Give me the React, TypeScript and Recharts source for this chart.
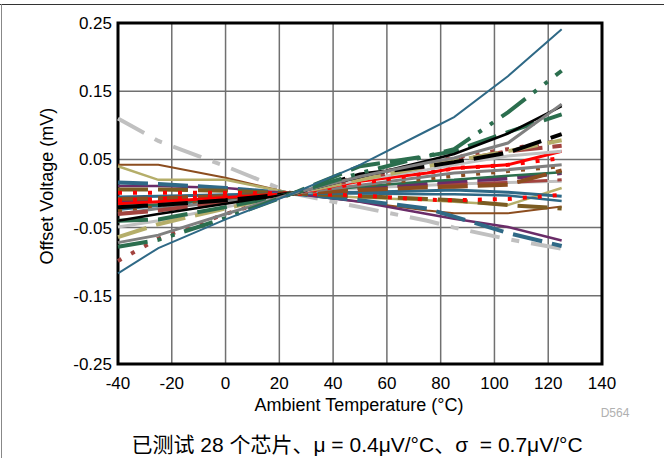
import React from "react";
import {
  LineChart,
  Line,
  XAxis,
  YAxis,
  CartesianGrid,
  ReferenceArea,
} from "recharts";

// measurement temperatures (°C)
const TEMPS = [-40, -25, 0, 25, 50, 75, 85, 105, 125];

const X_TICKS = [-40, -20, 0, 20, 40, 60, 80, 100, 120, 140];
const Y_TICKS = [-0.25, -0.15, -0.05, 0.05, 0.15, 0.25];

// offset voltage (mV) per chip, one array per unit
const blueTop = [-0.117, -0.08, -0.038, 0, 0.042, 0.092, 0.112, 0.172, 0.241];
const greenDashDot = [-0.078, -0.068, -0.036, 0, 0.03, 0.055, 0.065, 0.119, 0.18];
const grayTop = [-0.072, -0.061, -0.03, 0, 0.025, 0.045, 0.052, 0.074, 0.131];
const blackTop = [-0.04, -0.03, -0.015, 0, 0.024, 0.048, 0.058, 0.088, 0.128];
const greenLongDash = [-0.04, -0.038, -0.02, 0, 0.04, 0.055, 0.062, 0.09, 0.116];
const blackDash = [-0.02, -0.017, -0.01, 0, 0.028, 0.04, 0.046, 0.06, 0.087];
const khakiDash = [-0.064, -0.045, -0.022, 0, 0.02, 0.04, 0.048, 0.062, 0.078];
const maroonDot = [-0.099, -0.066, -0.03, 0, 0.025, 0.045, 0.053, 0.065, 0.078];
const maroonDash = [-0.03, -0.025, -0.012, 0, 0.022, 0.04, 0.048, 0.062, 0.07];
const lgrayA = [-0.049, -0.04, -0.02, 0, 0.02, 0.035, 0.042, 0.055, 0.062];
const redSolid = [-0.015, -0.012, -0.006, 0, 0.018, 0.03, 0.037, 0.042, 0.062];
const redDotUp = [-0.01, -0.008, -0.004, 0, 0.015, 0.03, 0.037, 0.042, 0.052];
const grayB = [-0.03, -0.022, -0.012, 0, 0.012, 0.025, 0.03, 0.035, 0.042];
const brownDot = [-0.025, -0.02, -0.01, 0, 0.012, 0.022, 0.026, 0.033, 0.04];
const greenThin = [-0.02, -0.016, -0.008, 0, 0.01, 0.018, 0.02, 0.026, 0.031];
const purpleDash = [-0.01, -0.01, -0.005, 0, 0.008, 0.015, 0.018, 0.022, 0.03];
const maroonThin = [-0.012, -0.01, -0.006, 0, 0.008, 0.012, 0.014, 0.016, 0.02];
const lgrayB = [-0.017, -0.015, -0.008, 0, 0.008, 0.012, 0.014, 0.016, 0.018];
const brownDash = [-0.008, -0.007, -0.004, 0, 0.005, 0.009, 0.01, 0.013, 0.034];
const khakiSolid = [0.04, 0.02, 0.02, 0, -0.006, -0.01, -0.012, -0.017, 0.008];
const brownSolid = [0.042, 0.042, 0.023, 0, -0.012, -0.025, -0.029, -0.029, -0.019];
const redDotFlat = [0.001, 0.001, 0.001, 0, -0.003, -0.009, -0.01, -0.008, -0.002];
const blueFlat = [-0.024, -0.018, -0.008, 0, 0.0, -0.001, -0.001, -0.003, -0.011];
const purpleDown = [0.011, 0.011, 0.008, 0, -0.012, -0.03, -0.037, -0.049, -0.069];
const blueDash = [0.016, 0.014, 0.008, 0, -0.01, -0.022, -0.034, -0.058, -0.077];
const lgrayDash = [0.11, 0.077, 0.04, 0, -0.02, -0.04, -0.05, -0.067, -0.081];
const oliveDash = [0.006, 0.006, 0.004, 0, -0.004, -0.008, -0.01, -0.017, -0.022];
const blueMid = [-0.005, -0.004, -0.002, 0, 0.002, 0.004, 0.005, 0.002, -0.004];

const BLUE = "#2f6986";
const GREEN = "#2b6e4e";
const GRAY = "#808080";
const LGRAY = "#c0c0c0";
const KHAKI = "#b5ae6a";
const MAROON = "#a3433f";
const RED = "#ff0000";
const BROWN = "#8c4d1f";
const PURPLE = "#6a2c68";
const OLIVE = "#7b5c22";

const DOT = "4 11";
const DASH = "30 10";
const LONG_SHORT = "30 12 8 12";
const DASH_DOT = "30 10 4 10 4 10";

const SERIES = [
  { key: "lgrayDash", vals: lgrayDash, color: LGRAY, w: 4, dash: LONG_SHORT },
  { key: "brownSolid", vals: brownSolid, color: BROWN, w: 2 },
  { key: "khakiSolid", vals: khakiSolid, color: KHAKI, w: 2.5 },
  { key: "purpleDown", vals: purpleDown, color: PURPLE, w: 2.5 },
  { key: "blueDash", vals: blueDash, color: BLUE, w: 4, dash: DASH },
  { key: "oliveDash", vals: oliveDash, color: OLIVE, w: 4, dash: DASH },
  { key: "blueFlat", vals: blueFlat, color: BLUE, w: 2.5 },
  { key: "blueMid", vals: blueMid, color: BLUE, w: 3 },
  { key: "redDotFlat", vals: redDotFlat, color: RED, w: 4, dash: DOT },
  { key: "lgrayB", vals: lgrayB, color: LGRAY, w: 3 },
  { key: "maroonThin", vals: maroonThin, color: MAROON, w: 3, dash: DASH },
  { key: "purpleDash", vals: purpleDash, color: PURPLE, w: 4, dash: DASH },
  { key: "greenThin", vals: greenThin, color: GREEN, w: 2.5 },
  { key: "brownDot", vals: brownDot, color: BROWN, w: 4, dash: DOT },
  { key: "brownDash", vals: brownDash, color: BROWN, w: 4, dash: DASH },
  { key: "grayB", vals: grayB, color: GRAY, w: 3 },
  { key: "redDotUp", vals: redDotUp, color: RED, w: 4, dash: DOT },
  { key: "redSolid", vals: redSolid, color: RED, w: 3 },
  { key: "lgrayA", vals: lgrayA, color: LGRAY, w: 3 },
  { key: "maroonDash", vals: maroonDash, color: MAROON, w: 4, dash: DASH },
  { key: "maroonDot", vals: maroonDot, color: MAROON, w: 4, dash: DOT },
  { key: "khakiDash", vals: khakiDash, color: KHAKI, w: 4, dash: DASH },
  { key: "blackDash", vals: blackDash, color: "#000", w: 4, dash: DASH },
  { key: "greenLongDash", vals: greenLongDash, color: GREEN, w: 4, dash: DASH },
  { key: "blackTop", vals: blackTop, color: "#000", w: 2.5 },
  { key: "grayTop", vals: grayTop, color: GRAY, w: 3 },
  { key: "greenDashDot", vals: greenDashDot, color: GREEN, w: 4, dash: DASH_DOT },
  { key: "blueTop", vals: blueTop, color: BLUE, w: 2 },
];

const data = TEMPS.map((t, i) => {
  const row: Record<string, number> = { t };
  SERIES.forEach((s) => {
    row[s.key] = s.vals[i];
  });
  return row;
});

const FONT = '"Liberation Sans", Arial, sans-serif';
const TICK = { fill: "#000", fontSize: 17, fontFamily: FONT };

export default function App() {
  return (
    <div
      style={{
        position: "absolute",
        left: 0,
        top: 0,
        width: 664,
        height: 458,
        background: "#fff",
        overflow: "hidden",
        fontFamily: FONT,
      }}
    >
      <div style={{ position: "absolute", left: 0, top: 4, width: 664, height: 1, background: "#333" }} />
      <div style={{ position: "absolute", left: 1, top: 4, width: 1, height: 454, background: "#888" }} />
      <LineChart
        width={664}
        height={458}
        data={data}
        margin={{ top: 23, right: 62, bottom: 64, left: 0 }}
      >
        <CartesianGrid stroke="#707070" strokeWidth={1.5} />
        <XAxis
          type="number"
          dataKey="t"
          domain={[-40, 140]}
          ticks={X_TICKS}
          tick={TICK}
          tickLine={false}
          axisLine={false}
          height={30}
          tickMargin={7}
          interval={0}
        />
        <YAxis
          type="number"
          domain={[-0.25, 0.25]}
          ticks={Y_TICKS}
          tick={TICK}
          tickLine={false}
          axisLine={false}
          width={118}
          tickMargin={0}
          interval={0}
          tickFormatter={(v: number) => v.toFixed(2)}
        />
        {SERIES.map((s) => (
          <Line
            key={s.key}
            type="linear"
            dataKey={s.key}
            stroke={s.color}
            strokeWidth={s.w}
            strokeDasharray={s.dash}
            dot={false}
            isAnimationActive={false}
          />
        ))}
        <ReferenceArea
          x1={-40}
          x2={140}
          y1={-0.25}
          y2={0.25}
          fill="none"
          stroke="#000"
          strokeWidth={3}
        />
      </LineChart>
      <div
        style={{
          position: "absolute",
          left: 47,
          top: 186,
          transform: "translate(-50%, -50%) rotate(-90deg)",
          whiteSpace: "nowrap",
          fontSize: 18,
        }}
      >
        Offset Voltage (mV)
      </div>
      <div
        style={{
          position: "absolute",
          left: 359,
          top: 405,
          transform: "translate(-50%, -50%)",
          whiteSpace: "nowrap",
          fontSize: 18,
        }}
      >
        Ambient Temperature (°C)
      </div>
      <div
        style={{
          position: "absolute",
          left: 615,
          top: 413,
          transform: "translate(-50%, -50%)",
          fontSize: 12,
          color: "#b0b0b0",
        }}
      >
        D564
      </div>
      <div
        style={{
          position: "absolute",
          left: 357,
          top: 443,
          transform: "translate(-50%, -50%)",
          whiteSpace: "nowrap",
          fontSize: 21,
          fontFamily: '"Liberation Sans", "Noto Sans CJK SC", sans-serif',
        }}
      >
        已测试 28 个芯片、μ = 0.4μV/°C、σ&nbsp; = 0.7μV/°C
      </div>
    </div>
  );
}
